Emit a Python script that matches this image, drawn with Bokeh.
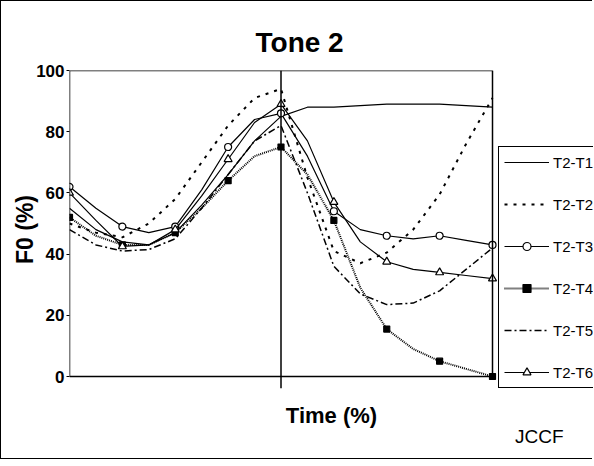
from bokeh.plotting import figure
from bokeh.models import (Range1d, FixedTicker, Span, Legend, LegendItem, Title,
                          ColumnDataSource, BoxAnnotation)
from bokeh.embed import file_html
from bokeh.resources import INLINE

# ---- data (F0 % at 6.25 % time steps) ----
time_pct = [0, 6.25, 12.5, 18.75, 25, 31.25, 37.5, 43.75, 50,
            56.25, 62.5, 68.75, 75, 81.25, 87.5, 93.75, 100]
t2_t1 = [55, 48, 44, 43, 47, 56, 66, 77, 85, 88, 88, 88.5, 89, 89, 89, 88.5, 88]
t2_t2 = [50, 47, 45.5, 50, 58, 70, 82, 91, 94, 65, 41, 37, 40.5, 48, 59.5, 76, 91]
t2_t3 = [62, 55, 49, 47, 49, 61, 75, 84, 86, 72, 54, 48, 46, 45, 46, 44.5, 43]
t2_t4 = [52, 46, 43, 43, 47, 55, 64, 72, 75, 66, 51, 29, 15.5, 9, 5, 2.5, 0]
t2_t5 = [48, 43, 41, 41.5, 45, 55, 66, 77, 82, 60, 36, 27, 23.5, 24, 28, 35, 42]
t2_t6 = [60, 51, 42.5, 43, 48, 59, 71, 83, 89, 77, 57, 44, 37.5, 35, 34, 33, 32]
series_names = ["T2-T1", "T2-T2", "T2-T3", "T2-T4", "T2-T5", "T2-T6"]
y_ticks = [0, 20, 40, 60, 80, 100]
boundary_time = [50]

FONT = "Liberation Sans"

# plot area (0..100 % x 0..100 %) is 423 x 306 px inside a 524 x 318 px frame;
# the extra room (right and slightly below) holds the legend
X_MAX, Y_MAX = 100, 100
x_view_max = X_MAX * 524 / 423
y_view_min = -Y_MAX * (318 - 306) / 306

p = figure(width=592, height=459, output_backend="svg", toolbar_location=None,
           x_range=Range1d(0, x_view_max), y_range=Range1d(y_view_min, Y_MAX),
           min_border_left=68, min_border_right=0, min_border_top=69,
           min_border_bottom=72)
p.styles = {"border-left": "1px solid black", "border-top": "1px solid black",
            "border-bottom": "1px solid black"}
p.background_fill_color = "white"
p.border_fill_color = "white"
p.outline_line_color = None
p.xgrid.visible = False
p.ygrid.visible = False

# title
p.title.text = "Tone 2"
p.title.align = "left"
p.title.offset = 186
p.title.text_font = FONT
p.title.text_font_size = "28px"
p.title.text_font_style = "bold"
p.title.text_color = "black"
p.title.standoff = 25

# axes
p.xaxis.ticker = FixedTicker(ticks=[])
p.xaxis.major_tick_out = 0
p.xaxis.major_tick_in = 0
p.xaxis.minor_tick_line_color = None
p.xaxis.axis_line_color = None
p.xaxis.axis_label = "Time (%)"
p.xaxis.axis_label_text_font = FONT
p.xaxis.axis_label_text_font_size = "22px"
p.xaxis.axis_label_text_font_style = "bold"
p.xaxis.axis_label_text_color = "black"
p.xaxis.axis_label_standoff = 14

p.yaxis.ticker = FixedTicker(ticks=y_ticks)
p.yaxis.major_tick_out = 3
p.yaxis.major_tick_in = 0
p.yaxis.major_tick_line_color = "black"
p.yaxis.minor_tick_line_color = None
p.yaxis.axis_line_color = None
p.yaxis.major_label_standoff = 2
p.yaxis.major_label_text_font = FONT
p.yaxis.major_label_text_font_size = "17px"
p.yaxis.major_label_text_font_style = "bold"
p.yaxis.major_label_text_color = "black"
p.yaxis.axis_label = "F0 (%)"
p.yaxis.axis_label_text_font = FONT
p.yaxis.axis_label_text_font_size = "23px"
p.yaxis.axis_label_text_font_style = "bold"
p.yaxis.axis_label_text_color = "black"
p.yaxis.axis_label_standoff = -5

# plot-area border and the tone boundary line
p.add_layout(BoxAnnotation(left=0, right=X_MAX, bottom=0, top=Y_MAX,
                           fill_alpha=0, line_color="black", line_alpha=1,
                           line_width=1.5))
p.add_layout(Span(location=boundary_time[0], dimension="height",
                  line_color="black", line_width=1.5))

series = [t2_t1, t2_t2, t2_t3, t2_t4, t2_t5, t2_t6]
dashes = ["solid", "3 6", "solid", "1 1", "7 3 2 3", "solid"]
widths = [1.2, 2, 1.2, 2, 1.5, 1.2]
markers = [None, None, "circle", "square", None, "triangle"]
msizes = [0, 0, 7, 6, 0, 8]
mfill = [None, None, "white", "black", None, "white"]

items = []
for name, ys, dash, w, mk, ms, mf in zip(series_names, series, dashes, widths,
                                          markers, msizes, mfill):
    src = ColumnDataSource(dict(x=time_pct, y=ys))
    r = p.line("x", "y", source=src, line_color="black", line_width=w,
               line_dash=dash)
    rs = [r]
    if mk is not None:
        msrc = ColumnDataSource(dict(x=time_pct[::2], y=ys[::2]))
        s = p.scatter("x", "y", source=msrc, marker=mk, size=ms,
                      line_color="black", fill_color=mf, line_width=1.2)
        rs.append(s)
    items.append(LegendItem(label=name, renderers=rs))

legend = Legend(items=items, location=(429, 0), orientation="vertical",
                label_text_font=FONT, label_text_font_size="15px",
                label_text_color="black",
                glyph_width=45, glyph_height=20, label_height=20,
                spacing=22, padding=5, margin=0, label_standoff=4,
                border_line_color="black", border_line_alpha=1,
                border_line_width=1.2,
                background_fill_color="white", background_fill_alpha=1)
p.add_layout(legend, "center")

p.add_layout(Title(text="JCCF", align="right", offset=30, standoff=-14,
                   text_font=FONT, text_font_size="19px", text_color="black",
                   text_font_style="normal"), "below")

open("out.html", "w").write(file_html(p, INLINE))
